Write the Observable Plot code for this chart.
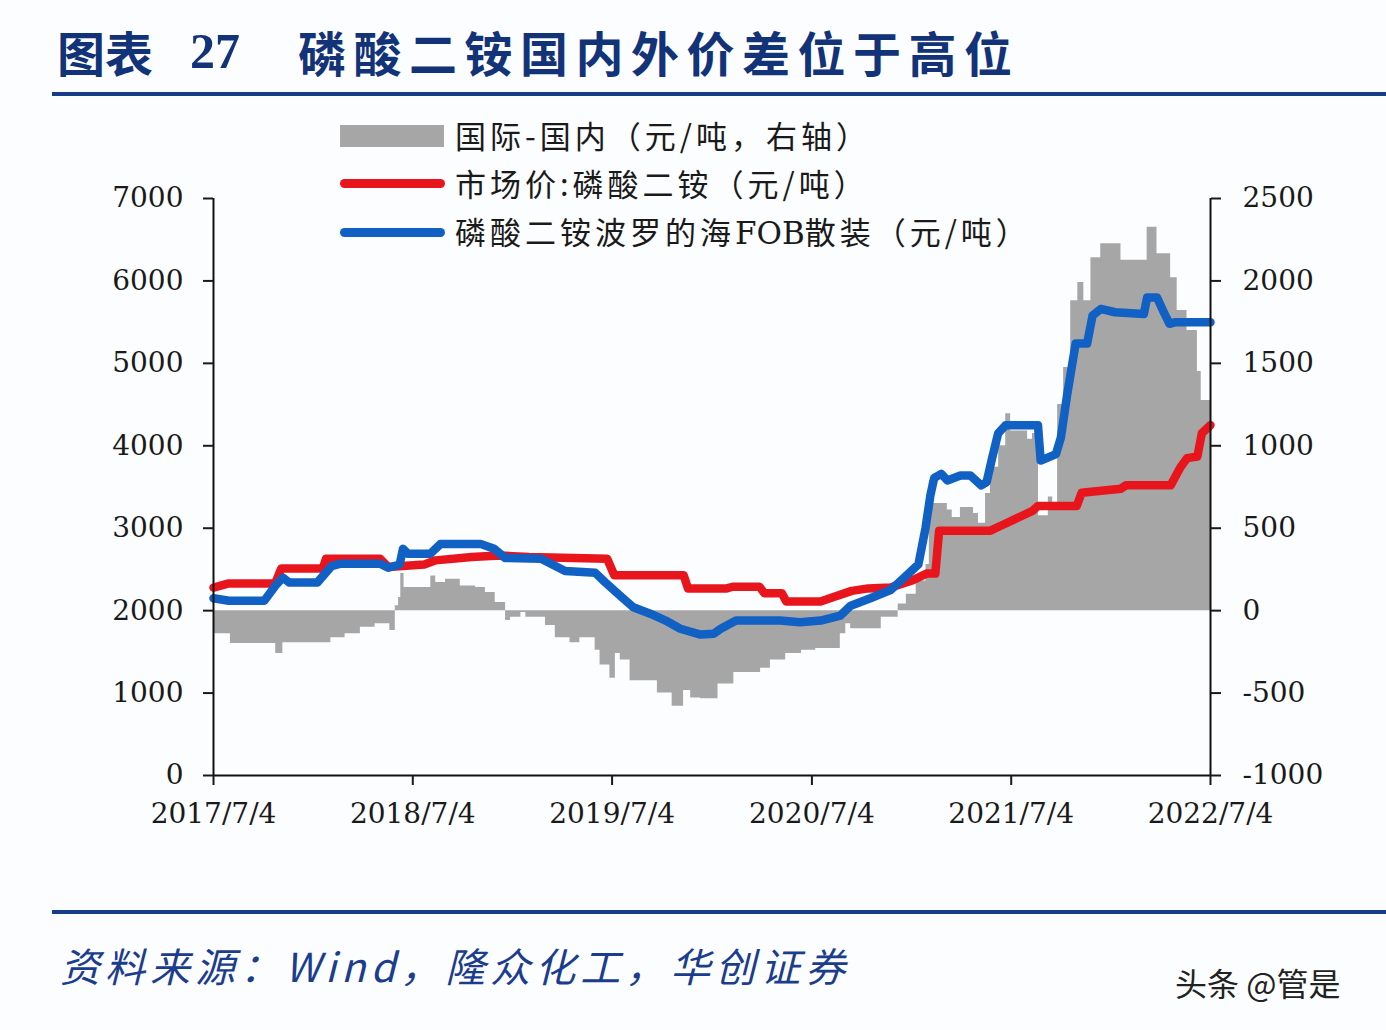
<!DOCTYPE html>
<html><head><meta charset="utf-8">
<script src="https://cdn.jsdelivr.net/npm/d3@7"></script>
<script src="https://cdn.jsdelivr.net/npm/@observablehq/plot@0.6"></script>
<style>
html,body{margin:0;padding:0;background:#fcfdff;}
#page{position:relative;width:1386px;height:1030px;overflow:hidden;background:#fcfdff;}
.abs{position:absolute;white-space:nowrap;}
.title{font-family:"Noto Sans CJK SC",sans-serif;font-weight:700;font-size:48px;line-height:48px;color:#123378;}
.rule{position:absolute;left:52px;width:1334px;height:4px;background:#173d88;}
.leg{font-family:"Noto Sans CJK SC",sans-serif;font-size:31px;line-height:31px;color:#1a1a1a;letter-spacing:4px;}
.lat{font-family:"DejaVu Serif",serif;letter-spacing:0;}
.src{font-family:"Noto Sans CJK SC",sans-serif;font-style:italic;font-size:40px;line-height:40px;color:#1c3d8d;letter-spacing:5px;}
#chart{position:absolute;left:0;top:0;}
</style></head>
<body><div id="page">
<div id="chart"></div>
<span class="abs title" style="left:57px;top:27px;">图表</span>
<span class="abs title" style="left:190px;top:27px;font-family:'Liberation Serif',serif;font-size:50px;">27</span>
<span class="abs title" style="left:298px;top:27px;letter-spacing:7.5px;">磷酸二铵国内外价差位于高位</span>
<div class="rule" style="top:92px;"></div>
<div class="abs" style="left:340px;top:125px;width:104px;height:22px;background:#a6a6a6;"></div>
<div class="abs" style="left:340px;top:179px;width:105px;height:9px;border-radius:5px;background:#e8161c;"></div>
<div class="abs" style="left:340px;top:228px;width:105px;height:9px;border-radius:5px;background:#1160c4;"></div>
<span class="abs leg" style="left:455px;top:119px;">国际-国内（元/吨，右轴）</span>
<span class="abs leg" style="left:455px;top:167px;">市场价:磷酸二铵（元/吨）</span>
<span class="abs leg" style="left:455px;top:215px;">磷酸二铵波罗的海<span class="lat">FOB</span>散装（元/吨）</span>
<div class="rule" style="top:910px;"></div>
<span class="abs src" style="left:60px;top:945px;">资料来源：Wind，隆众化工，华创证券</span>
<span class="abs" style="left:1175px;top:966px;font-family:'Noto Sans CJK SC',sans-serif;font-size:32px;line-height:32px;color:#222;">头条 @管是</span>
</div>
<script>
// 市场价:磷酸二铵 (元/吨, left axis)
const redSeries = [
["2017-07-04",2280],["2017-08-01",2330],["2017-10-25",2330],["2017-11-05",2510],["2018-01-20",2510],["2018-01-26",2630],
["2018-05-05",2630],["2018-05-20",2530],["2018-07-25",2560],["2018-08-15",2610],["2018-10-20",2650],["2018-12-10",2670],
["2019-02-01",2650],["2019-06-25",2630],["2019-07-08",2430],["2019-11-12",2430],["2019-11-20",2270],["2020-01-30",2270],
["2020-02-10",2290],["2020-03-30",2290],["2020-04-08",2210],["2020-05-10",2210],["2020-05-18",2110],["2020-07-20",2110],
["2020-08-10",2160],["2020-09-15",2240],["2020-10-15",2270],["2020-11-25",2280],["2021-01-05",2370],["2021-01-30",2450],
["2021-02-15",2450],["2021-02-22",2970],["2021-05-27",2970],["2021-06-15",3030],["2021-08-12",3210],["2021-08-22",3270],
["2021-11-01",3270],["2021-11-10",3430],["2022-01-21",3480],["2022-01-30",3520],["2022-04-22",3520],["2022-05-10",3740],
["2022-05-22",3850],["2022-06-10",3870],["2022-06-18",4150],["2022-07-04",4250]
];
// 磷酸二铵波罗的海FOB散装 (元/吨, left axis)
const blueSeries = [
["2017-07-04",2150],["2017-08-01",2120],["2017-10-05",2120],["2017-10-25",2300],["2017-11-08",2400],["2017-11-20",2340],
["2018-01-10",2340],["2018-02-05",2540],["2018-02-22",2570],["2018-05-05",2570],["2018-05-20",2520],["2018-06-10",2560],
["2018-06-16",2750],["2018-06-25",2690],["2018-08-05",2690],["2018-08-24",2810],["2018-11-05",2810],["2018-11-30",2750],
["2018-12-20",2640],["2019-02-24",2630],["2019-04-09",2480],["2019-06-03",2460],["2019-06-22",2340],["2019-07-19",2180],
["2019-08-12",2040],["2019-09-13",1960],["2019-10-10",1880],["2019-11-06",1780],["2019-12-13",1710],["2020-01-06",1720],
["2020-01-19",1780],["2020-02-16",1880],["2020-05-07",1880],["2020-06-12",1860],["2020-07-20",1880],["2020-08-25",1940],
["2020-09-13",2060],["2020-10-19",2150],["2020-11-25",2250],["2020-12-20",2400],["2021-01-15",2560],["2021-01-28",3000],
["2021-02-06",3400],["2021-02-13",3610],["2021-02-26",3660],["2021-03-09",3580],["2021-04-02",3640],["2021-04-20",3640],
["2021-05-10",3520],["2021-05-20",3560],["2021-05-30",3850],["2021-06-10",4150],["2021-06-24",4250],["2021-08-22",4250],
["2021-08-27",3820],["2021-09-24",3900],["2021-10-03",4100],["2021-10-14",4600],["2021-10-24",5000],["2021-10-30",5240],
["2021-11-20",5240],["2021-11-30",5580],["2021-12-15",5660],["2022-01-10",5620],["2022-03-04",5600],["2022-03-10",5800],
["2022-03-28",5800],["2022-04-08",5640],["2022-04-20",5480],["2022-05-01",5500],["2022-07-04",5500]
];
// 国际-国内 (元/吨, right axis)
const spreadSeries = [
["2017-07-04",-140],["2017-08-04",-200],["2017-10-26",-260],["2017-11-08",-195],["2018-02-04",-165],["2018-03-02",-140],
["2018-03-30",-100],["2018-04-26",-80],["2018-05-23",-120],["2018-06-02",30],["2018-06-08",80],["2018-06-12",225],
["2018-06-18",140],["2018-08-06",210],["2018-08-15",170],["2018-09-02",190],["2018-09-29",150],["2018-10-27",140],
["2018-11-14",110],["2018-12-02",50],["2018-12-21",-60],["2018-12-30",-40],["2019-01-18",-12],["2019-01-27",-40],
["2019-03-04",-90],["2019-03-22",-165],["2019-04-18",-195],["2019-05-06",-165],["2019-06-03",-240],["2019-06-12",-330],
["2019-06-30",-410],["2019-07-10",-260],["2019-07-19",-300],["2019-08-06",-425],["2019-09-25",-500],["2019-10-22",-580],
["2019-11-12",-485],["2019-11-25",-530],["2019-12-13",-535],["2020-01-14",-445],["2020-02-12",-375],["2020-04-01",-350],
["2020-04-19",-300],["2020-05-17",-260],["2020-06-15",-240],["2020-07-11",-230],["2020-08-25",-140],["2020-09-04",-80],
["2020-09-13",-110],["2020-11-08",-40],["2020-12-09",40],["2020-12-24",100],["2021-01-11",180],["2021-01-29",280],
["2021-02-04",790],["2021-02-12",650],["2021-03-09",610],["2021-03-18",565],["2021-04-02",625],["2021-04-26",590],
["2021-05-05",530],["2021-05-18",710],["2021-05-27",870],["2021-06-11",1000],["2021-06-24",1195],["2021-07-03",1090],
["2021-08-03",1040],["2021-08-12",1075],["2021-08-23",575],["2021-09-10",690],["2021-09-18",625],["2021-09-27",1250],
["2021-10-08",1475],["2021-10-21",1880],["2021-11-03",1990],["2021-11-14",1880],["2021-11-27",2140],["2021-12-15",2225],
["2022-01-21",2125],["2022-03-10",2325],["2022-03-28",2165],["2022-04-22",2020],["2022-05-04",1820],["2022-05-22",1700],
["2022-06-10",1450],["2022-06-17",1275],["2022-07-04",1275]
];
const xTickLabels = ["2017/7/4","2018/7/4","2019/7/4","2020/7/4","2021/7/4","2022/7/4"];
const leftTicks = [0,1000,2000,3000,4000,5000,6000,7000];
const rightTicks = [-1000,-500,0,500,1000,1500,2000,2500];

const parse = d3.utcParse("%Y-%m-%d");
const parseTick = d3.utcParse("%Y/%m/%d");
const rows = arr => arr.map(([d, v]) => ({date: parse(d), value: v}));
const xTicks = xTickLabels.map(s => parseTick(s));
const fmtX = d => `${d.getUTCFullYear()}/${d.getUTCMonth() + 1}/${d.getUTCDate()}`;
// right axis (-1000..2500) shares the frame with the left axis (0..7000)
const toLeft = r => 2000 + 2 * r;
const fromLeft = v => (v - 2000) / 2;
const xStart = xTicks[0], xEnd = xTicks[xTicks.length - 1];

const chart = Plot.plot({
  width: 1386, height: 860,
  marginLeft: 213, marginRight: 176, marginTop: 198, marginBottom: 85,
  x: {type: "utc", domain: [xStart, xEnd]},
  y: {domain: [0, 7000]},
  style: {background: "transparent", fontFamily: "'DejaVu Serif', serif", fontSize: "28px", color: "#1a1a1a", overflow: "visible"},
  marks: [
    Plot.areaY(rows(spreadSeries), {x: "date", y1: () => toLeft(0), y2: d => toLeft(d.value), curve: "step-after", fill: "#a6a6a6"}),
    Plot.line(rows(redSeries), {x: "date", y: "value", stroke: "#e8161c", strokeWidth: 8.5, strokeLinejoin: "round"}),
    Plot.line(rows(blueSeries), {x: "date", y: "value", stroke: "#1160c4", strokeWidth: 8.5, strokeLinejoin: "round"}),
    Plot.ruleX([xStart], {y1: 0, y2: 7000, stroke: "#111", strokeWidth: 2}),
    Plot.ruleX([xEnd], {y1: 0, y2: 7000, stroke: "#111", strokeWidth: 2}),
    Plot.ruleY([0], {x1: xStart, x2: xEnd, stroke: "#111", strokeWidth: 2}),
    Plot.axisY({anchor: "left", ticks: leftTicks, tickFormat: v => String(v), tickSize: 10, tickPadding: 20, label: null, fontSize: 28, strokeWidth: 2}),
    Plot.axisY({anchor: "right", ticks: rightTicks.map(toLeft), tickFormat: v => String(fromLeft(v)), tickSize: 10, tickPadding: 22, label: null, fontSize: 28, strokeWidth: 2}),
    Plot.axisX({anchor: "bottom", ticks: xTicks, tickFormat: fmtX, tickSize: 10, tickPadding: 18, label: null, fontSize: 28, strokeWidth: 2})
  ]
});
document.getElementById("chart").appendChild(chart);
</script>
</body></html>
